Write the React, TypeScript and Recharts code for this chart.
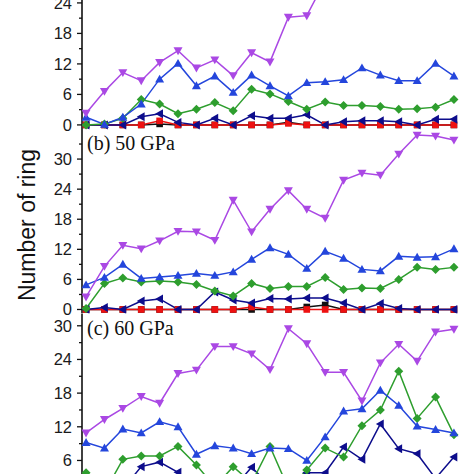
import React from 'react';
import { LineChart, Line, XAxis, YAxis } from 'recharts';

// frame index along the horizontal axis
const frames = [0, 1, 2, 3, 4, 5, 6, 7, 8, 9, 10, 11, 12, 13, 14, 15, 16, 17, 18, 19, 20];

// Panel (a) — top panel (partly cropped)
const aPurple = [2.3, 6.6, 10.3, 8.7, 12.3, 14.6, 11.2, 12.8, 9.7, 14.2, 12.4, 21.2, 21.5, 28.4, 30, 31, 32, 31, 33, 34, 33];
const aBlue = [1.5, 0.1, 1.5, 4.1, 9.0, 12.1, 7.7, 9.6, 6.4, 9.8, 7.7, 5.7, 8.3, 8.5, 8.9, 11.2, 9.8, 8.7, 8.7, 12.1, 9.6];
const aGreen = [0, 0.2, 1.3, 5.0, 4.1, 2.2, 3.1, 4.4, 2.8, 7.0, 6.1, 4.6, 3.1, 4.5, 3.8, 3.8, 3.6, 3.1, 3.2, 3.5, 5.0];
const aNavy = [0, 0, 0, 1.6, 2.2, 0.5, 0, 1.3, 0, 1.8, 1.3, 1.3, 2.0, 0, 0.6, 0.8, 0.8, 0.6, 0, 1.1, 1.1];
const aRed = [0, 0, 0, 0, 0.8, 0, 0, 0, 0, 0, 0, 0.3, 0, 0, 0, 0, 0, 0, 0, 0, 0];
const aBlack = [0, 0, 0, 0, 0.2, 0, 0, 0, 0, 0, 0, 0.5, 0, 0, 0, 0, 0, 0, 0, 0, 0];

// Panel (b) — 50 GPa
const bPurple = [2.5, 8.6, 12.8, 12.1, 13.7, 15.6, 15.5, 13.8, 21.8, 15.5, 20.0, 23.7, 20.0, 18.2, 25.8, 27.2, 26.8, 31.0, 34.8, 34.6, 33.8];
const bBlue = [4.9, 6.4, 9.0, 6.2, 6.5, 6.8, 7.2, 6.8, 7.5, 10.0, 12.3, 11.0, 8.2, 11.6, 10.2, 8.0, 7.7, 10.6, 10.4, 10.5, 12.1];
const bGreen = [0.2, 5.2, 6.3, 5.5, 5.7, 5.5, 5.0, 3.7, 2.7, 5.2, 4.2, 4.6, 4.6, 6.4, 4.0, 4.3, 4.2, 6.0, 8.4, 8.0, 8.4];
const bNavy = [0, 0.4, 0, 1.7, 2.1, 0, 0, 3.5, 1.9, 1.3, 2.2, 2.1, 2.3, 2.3, 1.3, 0, 1.2, 0.2, 0, 0, 0];
const bRed = [0, 0, 0, 0, 0, 0, 0, 0, 0, 0.5, 0, 0, 0, 0, 0, 0, 0, 0, 0, 0, 0];
const bBlack = [0, 0, 0, 0, 0, 0, 0, 0, 0, 0, 0, 0, 0.5, 0.9, 0, 0, 0, 0, 0, 0, 0];

// Panel (c) — 60 GPa (bottom cropped)
const cPurple = [10.9, 13.3, 15.3, 17.4, 16.2, 21.5, 22.1, 26.3, 26.3, 25.0, 22.2, 29.5, 26.8, 21.7, 21.7, 16.6, 23.4, 26.7, 23.7, 28.9, 29.4];
const cBlue = [9.2, 8.2, 11.6, 10.9, 12.9, 12.0, 7.1, 8.6, 8.2, 7.2, 8.2, 8.1, 6.0, 10.2, 14.8, 15.2, 18.5, 15.8, 12.1, 11.5, 10.9];
const cGreen = [3.8, 0.3, 6.2, 6.8, 6.8, 8.5, 5.2, 1.3, 4.9, 2.0, 8.5, 1.0, 4.3, 8.2, 6.6, 12.2, 15.0, 21.9, 13.5, 17.3, 10.6];
const cNavy = [0, 0, 0.9, 4.9, 5.7, 3.9, 0.5, 0, 1.0, 4.8, 1.5, 0.5, 3.8, 3.8, 8.4, 6.2, 12.5, 8.1, 7.2, 2.8, 6.6];
const cRed = [0, 0, 0, 0, 0, 0, 0, 0, 0, 0, 0, 0, 0, 0, 0, 0, 0, 0, 0, 0, 0];
const cBlack = [0, 0, 0, 0, 0, 0, 0, 0, 0, 0, 0, 0, 0, 0, 0, 0, 0, 0, 0, 0, 0];

const yTicksAB = [0, 3, 6, 9, 12, 15, 18, 21, 24, 27, 30, 33];
const yTicksC = [0, 3, 6, 9, 12, 15, 18, 21, 24, 27, 30];
const xTicks = [0, 4 / 3, 8 / 3, 4, 16 / 3, 20 / 3, 8, 28 / 3, 32 / 3, 12, 40 / 3, 44 / 3, 16, 52 / 3, 56 / 3, 20];

const panelLabels = ['(b) 50 GPa', '(c) 60 GPa'];
const yTitle = 'Number of ring';

const build = (p: number[], b: number[], g: number[], n: number[], r: number[], k: number[]) =>
  frames.map((f, i) => ({ f, p: p[i], b: b[i], g: g[i], n: n[i], r: r[i], k: k[i] }));

const C = {
  purple: '#aa48e4',
  blue: '#2446dc',
  green: '#2e9e2e',
  navy: '#0d0d8c',
  red: '#ee1111',
  black: '#111111',
};

type Shape = 'down' | 'up' | 'diamond' | 'left' | 'square';

const makeDot = (shape: Shape, color: string) => (props: any) => {
  const { cx, cy, index } = props;
  if (cx == null || cy == null) return <g key={index} />;
  const s = 4.5;
  let pts = '';
  if (shape === 'down') pts = `${cx - s},${cy - s * 0.75} ${cx + s},${cy - s * 0.75} ${cx},${cy + s}`;
  if (shape === 'up') pts = `${cx - s},${cy + s * 0.75} ${cx + s},${cy + s * 0.75} ${cx},${cy - s}`;
  if (shape === 'diamond') pts = `${cx},${cy - s} ${cx + s},${cy} ${cx},${cy + s} ${cx - s},${cy}`;
  if (shape === 'left') pts = `${cx - s},${cy} ${cx + s * 0.75},${cy - s} ${cx + s * 0.75},${cy + s}`;
  if (shape === 'square') {
    return <rect key={index} x={cx - 3.3} y={cy - 3.3} width={6.6} height={6.6} fill={color} />;
  }
  return <polygon key={index} points={pts} fill={color} />;
};

const YTick = (props: any) => {
  const { x, y, payload } = props;
  const v = payload.value as number;
  const major = v % 6 === 0;
  return (
    <g>
      <line x1={x + (major ? 5 : 7)} x2={x + 10} y1={y} y2={y} stroke="#111" strokeWidth={1.3} />
      {major && (
        <text x={x} y={y} dy="0.36em" textAnchor="end" fontFamily="'Liberation Sans', Arial, sans-serif" fontSize={16.5} fill="#1a1a1a">
          {v}
        </text>
      )}
    </g>
  );
};

type PanelProps = {
  data: any[];
  top: number;
  plotH: number;
  domain: [number, number];
  yTicks: number[];
};

const series: { key: string; color: string; shape: Shape }[] = [
  { key: 'k', color: C.black, shape: 'square' },
  { key: 'r', color: C.red, shape: 'square' },
  { key: 'n', color: C.navy, shape: 'left' },
  { key: 'g', color: C.green, shape: 'diamond' },
  { key: 'b', color: C.blue, shape: 'up' },
  { key: 'p', color: C.purple, shape: 'down' },
];

const Panel = ({ data, top, plotH, domain, yTicks }: PanelProps) => (
  <div style={{ position: 'absolute', left: 0, top: top - 10 }}>
    <LineChart width={474} height={plotH + 20} data={data} margin={{ top: 10, right: 14, bottom: 10, left: 0 }}>
      <XAxis
        dataKey="f"
        type="number"
        domain={[-0.22, 20.33]}
        ticks={xTicks}
        interval={0}
        height={0}
        mirror
        tick={false}
        tickSize={4}
        tickLine={{ stroke: '#111', strokeWidth: 1.2 }}
        axisLine={{ stroke: '#111', strokeWidth: 1.6 }}
      />
      <XAxis
        xAxisId="top"
        dataKey="f"
        type="number"
        orientation="top"
        domain={[-0.22, 20.33]}
        height={0}
        tick={false}
        tickLine={false}
        axisLine={{ stroke: '#111', strokeWidth: 1.6 }}
      />
      <YAxis
        type="number"
        domain={domain}
        ticks={yTicks}
        interval={0}
        width={82}
        tickSize={5}
        tickMargin={5}
        tickLine={false}
        tick={<YTick />}
        allowDataOverflow
        axisLine={{ stroke: '#111', strokeWidth: 1.6 }}
      />
      <YAxis
        yAxisId="right"
        orientation="right"
        width={0}
        tick={false}
        tickLine={false}
        axisLine={{ stroke: '#111', strokeWidth: 1.6 }}
      />
      {series.map((s) => (
        <Line
          key={s.key}
          dataKey={s.key}
          stroke={s.color}
          strokeWidth={1.5}
          dot={makeDot(s.shape, s.color)}
          activeDot={false}
          isAnimationActive={false}
        />
      ))}
    </LineChart>
  </div>
);

export default function App() {
  const dataA = build(aPurple, aBlue, aGreen, aNavy, aRed, aBlack);
  const dataB = build(bPurple, bBlue, bGreen, bNavy, bRed, bBlack);
  const dataC = build(cPurple, cBlue, cGreen, cNavy, cRed, cBlack);
  return (
    <div style={{ position: 'fixed', left: 0, top: 0, width: 474, height: 474, overflow: 'hidden', background: '#fff' }}>
      <Panel data={dataA} top={-53} plotH={183} domain={[-1, 35]} yTicks={yTicksAB} />
      <Panel data={dataB} top={130} plotH={183.5} domain={[-0.8, 35.8]} yTicks={yTicksAB} />
      <Panel data={dataC} top={313.5} plotH={183.5} domain={[-0.6, 32.1]} yTicks={yTicksC} />
      <svg width={474} height={474} style={{ position: 'absolute', left: 0, top: 0, pointerEvents: 'none' }}>
        <text x={87} y={150} fontFamily="'Liberation Serif', 'Times New Roman', serif" fontSize={20} fill="#111">
          {panelLabels[0]}
        </text>
        <text x={87} y={335} fontFamily="'Liberation Serif', 'Times New Roman', serif" fontSize={20} fill="#111">
          {panelLabels[1]}
        </text>
        <text
          transform="translate(35,225) rotate(-90)"
          textAnchor="middle"
          fontFamily="'Liberation Sans', Arial, sans-serif"
          fontSize={23}
          fill="#111"
        >
          {yTitle}
        </text>
      </svg>
    </div>
  );
}
